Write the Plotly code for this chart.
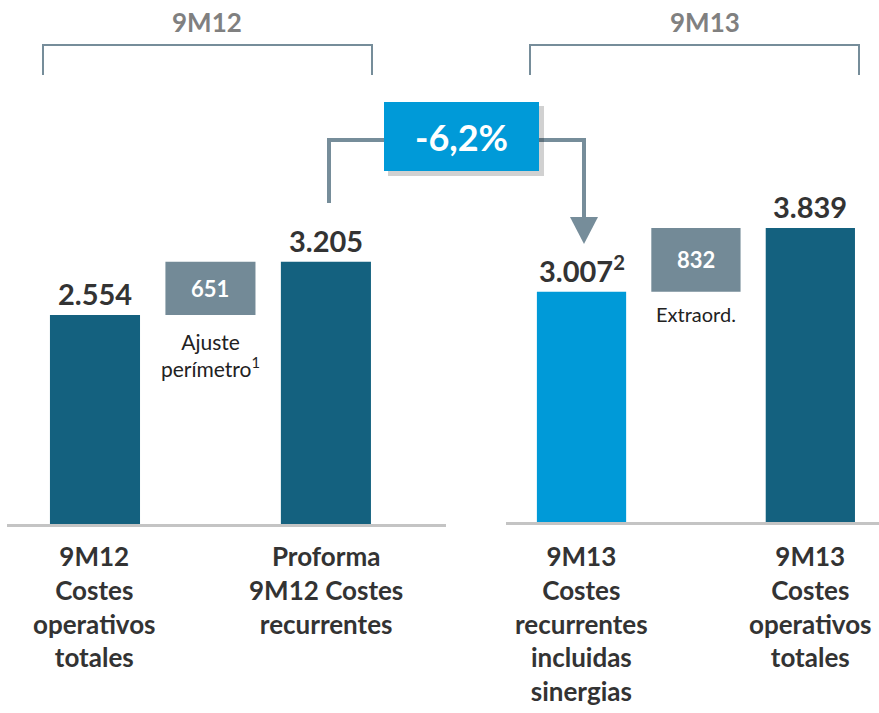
import plotly.graph_objs as go

# Data
labels_12 = ["9M12<br>Costes<br>operativos<br>totales", "", "Proforma<br>9M12 Costes<br>recurrentes"]
labels_13 = ["9M13<br>Costes<br>recurrentes<br>incluidas<br>sinergias", "", "9M13<br>Costes<br>operativos<br>totales"]
totals_12 = [2554, 3205]
adjust_12 = 651
totals_13 = [3007, 3839]
extra_13 = 832
value_text_12 = ["2.554", "651", "3.205"]
value_text_13 = ["3.007<sup>2</sup>", "832", "3.839"]
change_label = "-6,2%"

W, H = 879, 713
DARK = '#14617f'
LIGHT = '#009ad8'
GREY_BOX = '#738a97'
LINE = '#768d9a'
TXT = '#333333'
FONT = 'Lato'


def px(x):
    return x / W


def py(y):
    return 1 - y / H


xs = [0, 1, 2]

fig = go.Figure()

# Left panel: 9M12
fig.add_trace(go.Bar(x=[xs[0], xs[2]], y=totals_12, width=0.78,
                     marker=dict(color=DARK, line=dict(width=0)),
                     xaxis='x', yaxis='y', hoverinfo='skip'))
fig.add_trace(go.Bar(x=[xs[1]], y=[adjust_12], base=[totals_12[0]], width=0.78,
                     marker=dict(color=GREY_BOX, line=dict(width=0)),
                     xaxis='x', yaxis='y', hoverinfo='skip'))

# Right panel: 9M13
fig.add_trace(go.Bar(x=[xs[0], xs[2]], y=totals_13, width=0.78,
                     marker=dict(color=[LIGHT, DARK], line=dict(width=0)),
                     xaxis='x2', yaxis='y2', hoverinfo='skip'))
fig.add_trace(go.Bar(x=[xs[1]], y=[extra_13], base=[totals_13[0]], width=0.78,
                     marker=dict(color=GREY_BOX, line=dict(width=0)),
                     xaxis='x2', yaxis='y2', hoverinfo='skip'))

annotations = []
# value labels above bars
for xa, ya, vals, texts, box in [('x', 'y', totals_12, value_text_12, adjust_12),
                                 ('x2', 'y2', totals_13, value_text_13, extra_13)]:
    annotations.append(dict(x=xs[0], y=vals[0], xref=xa, yref=ya, text='<b>%s</b>' % texts[0],
                            showarrow=False, yanchor='bottom', yshift=2,
                            font=dict(size=29, color=TXT, family=FONT)))
    annotations.append(dict(x=xs[2], y=vals[1], xref=xa, yref=ya, text='<b>%s</b>' % texts[2],
                            showarrow=False, yanchor='bottom', yshift=2,
                            font=dict(size=29, color=TXT, family=FONT)))
    annotations.append(dict(x=xs[1], y=vals[0] + box / 2, xref=xa, yref=ya, text='<b>%s</b>' % texts[1],
                            showarrow=False, yanchor='middle',
                            font=dict(size=22, color='white', family=FONT)))

annotations.append(dict(x=xs[1], y=totals_12[0], xref='x', yref='y',
                        text='Ajuste<br>perímetro<sup>1</sup>', showarrow=False,
                        yanchor='top', yshift=-12, font=dict(size=21, color='#222222', family=FONT)))
annotations.append(dict(x=xs[1], y=totals_13[0], xref='x2', yref='y2',
                        text='Extraord.', showarrow=False,
                        yanchor='top', yshift=-8, font=dict(size=20, color='#222222', family=FONT)))

# category labels below the axis
for xa, labs in [('x', labels_12), ('x2', labels_13)]:
    for x, lab in zip(xs, labs):
        if lab:
            annotations.append(dict(x=x, y=py(538), xref=xa, yref='paper', text='<b>%s</b>' % lab,
                                    showarrow=False, yanchor='top',
                                    font=dict(size=26, color=TXT, family=FONT)))

# period headers
annotations.append(dict(x=px(207), y=py(22), xref='paper', yref='paper', text='<b>9M12</b>',
                        showarrow=False, xanchor='center', yanchor='middle',
                        font=dict(size=26, color='#808080', family=FONT)))
annotations.append(dict(x=px(705), y=py(22), xref='paper', yref='paper', text='<b>9M13</b>',
                        showarrow=False, xanchor='center', yanchor='middle',
                        font=dict(size=26, color='#808080', family=FONT)))
# change box text
annotations.append(dict(x=px(461), y=py(137), xref='paper', yref='paper', text='<b>%s</b>' % change_label,
                        showarrow=False, xanchor='center', yanchor='middle',
                        font=dict(size=36, color='white', family=FONT)))


def path(points):
    return 'M ' + ' L '.join('%f,%f' % (px(a), py(b)) for a, b in points)


shapes = [
    # brackets
    dict(type='path', xref='paper', yref='paper', path=path([(43, 75), (43, 45), (372, 45), (372, 75)]),
         line=dict(color=LINE, width=2)),
    dict(type='path', xref='paper', yref='paper', path=path([(530, 75), (530, 45), (859, 45), (859, 75)]),
         line=dict(color=LINE, width=2)),
    # connector
    dict(type='path', xref='paper', yref='paper', path=path([(329, 203), (329, 140), (584, 140), (584, 220)]),
         line=dict(color=LINE, width=4)),
    dict(type='path', xref='paper', yref='paper', path=path([(570, 217), (598, 217), (584, 244)]) + ' Z',
         fillcolor=LINE, line=dict(width=0)),
    # shadow + box
    dict(type='rect', xref='paper', yref='paper', x0=px(388), x1=px(544), y0=py(106), y1=py(176),
         fillcolor='rgba(0,0,0,0.18)', line=dict(width=0)),
    dict(type='rect', xref='paper', yref='paper', x0=px(384), x1=px(539), y0=py(102), y1=py(171),
         fillcolor=LIGHT, line=dict(width=0)),
]

fig.update_layout(
    width=W, height=H,
    margin=dict(l=0, r=0, t=0, b=0),
    paper_bgcolor='white', plot_bgcolor='white',
    showlegend=False, barmode='overlay',
    xaxis=dict(domain=[px(7), px(446)], range=[-0.762, 3.04], showline=True, linewidth=3,
               linecolor='#c4c4c4', showticklabels=False, showgrid=False, zeroline=False, ticks=''),
    yaxis=dict(domain=[py(524), py(100)], range=[0, 424 / 0.0818], visible=False),
    xaxis2=dict(domain=[px(506), 1], range=[-0.66, 2.6], showline=True, linewidth=3,
                linecolor='#c4c4c4', showticklabels=False, showgrid=False, zeroline=False, ticks='',
                anchor='y2'),
    yaxis2=dict(domain=[py(522), py(100)], range=[0, 422 / 0.0766], visible=False, anchor='x2'),
    annotations=annotations,
    shapes=shapes,
)

# drop the default page margin so the figure sits at the window's corner
fig.write_html("out.html", config={'displayModeBar': False},
               post_script="document.body.style.margin='0';")
